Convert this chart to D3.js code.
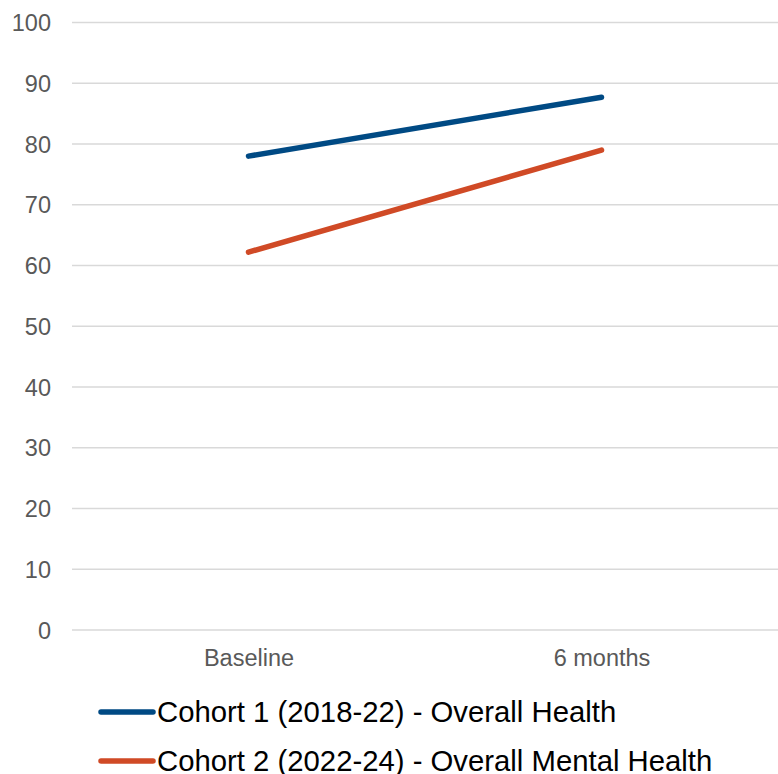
<!DOCTYPE html>
<html><head><meta charset="utf-8">
<script src="https://cdn.jsdelivr.net/npm/d3@7"></script>
<style>body{margin:0;background:#fff;}svg{display:block;}</style>
</head><body>
<svg id="chart" width="778" height="774"></svg>
<script>
const categories = ["Baseline", "6 months"];
const seriesNames = ["Cohort 1 (2018-22) - Overall Health", "Cohort 2 (2022-24) - Overall Mental Health"];
const cohort1 = [78.0, 87.7];
const cohort2 = [62.2, 79.0];
const yTicks = [0,10,20,30,40,50,60,70,80,90,100];
const colors = ["#004A84", "#D04A26"];

(function(){
const svg = d3.select("#chart");
const mLeft = 72, mRight = 778, mTop = 22.5, mBottom = 630;
const FONT = "'Liberation Sans', Arial, sans-serif";
const x = d3.scalePoint().domain(categories).range([mLeft, mRight]).padding(0.5);
const y = d3.scaleLinear().domain([0,100]).range([mBottom, mTop]);

// gridlines
svg.append("g").selectAll("line").data(yTicks).join("line")
  .attr("x1", mLeft).attr("x2", mRight)
  .attr("y1", d=>y(d)).attr("y2", d=>y(d))
  .attr("stroke", "#D9D9D9").attr("stroke-width", 1.5);

// y axis labels
const yAxis = d3.axisLeft(y).tickValues(yTicks).tickSize(0).tickPadding(0);
const ya = svg.append("g").attr("transform", `translate(51,0)`).call(yAxis);
ya.select(".domain").remove();
ya.selectAll("text").attr("font-family", FONT)
  .attr("font-size", 23.5).attr("fill", "#595959").attr("dy","0.35em");

// x axis labels
const xAxis = d3.axisBottom(x).tickSize(0).tickPadding(0);
const xa = svg.append("g").attr("transform", `translate(0,649)`).call(xAxis);
xa.select(".domain").remove();
xa.selectAll("text").attr("font-family", FONT)
  .attr("font-size", 23.5).attr("fill", "#595959").attr("dy","0.71em");

// lines
const series = [cohort1, cohort2];
const line = d3.line().x((d,i)=>x(categories[i])).y(d=>y(d));
svg.append("g").selectAll("path").data(series).join("path")
  .attr("d", d=>line(d)).attr("fill","none")
  .attr("stroke", (d,i)=>colors[i]).attr("stroke-width", 5.5)
  .attr("stroke-linecap","round").attr("stroke-linejoin","round");

// legend
const legY = [712, 761];
const lg = svg.append("g").selectAll("g").data(seriesNames).join("g")
  .attr("transform", (d,i)=>`translate(0,${legY[i]})`);
lg.append("line").attr("x1", 101).attr("x2", 153).attr("y1",0).attr("y2",0)
  .attr("stroke", (d,i)=>colors[i]).attr("stroke-width", 5.5).attr("stroke-linecap","round");
lg.append("text").attr("x", 157).attr("y", 0).attr("dy","0.35em")
  .attr("font-family", FONT).attr("font-size", 29.3)
  .attr("fill","#000").text(d=>d);
})();
</script>
</body></html>
